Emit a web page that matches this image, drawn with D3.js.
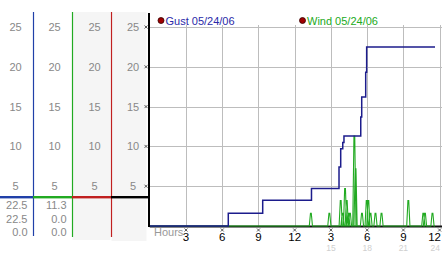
<!DOCTYPE html>
<html><head><meta charset="utf-8">
<script src="https://cdn.jsdelivr.net/npm/d3@7"></script>
<style>body{margin:0;background:#fff}svg{display:block}text{font-family:"Liberation Sans",Arial,sans-serif}</style>
</head><body><svg id="c" width="442" height="253"></svg>
<script>
// ---- data ----
const yTicks = [5, 10, 15, 20, 25];
const xTickHours = [3, 6, 9, 12, 15, 18, 21, 24];
const xTickLabels = ["3", "6", "9", "12", "3", "6", "9", "12"];
const xSubLabels = ["", "", "", "", "15", "18", "21", "24"];
const legendNames = ["Gust 05/24/06", "Wind 05/24/06"];
// gust step series: hour, value
const gustHours  = [0, 6.5, 9.35, 13.39, 15.67, 15.81, 15.98, 16.08, 17.47, 17.55, 17.88, 17.96, 23.62];
const gustValues = [0, 1.6, 3.25, 4.7, 7.4, 9.7, 10.5, 11.3, 13.7, 16.2, 19.3, 22.5, 22.5];
// wind nonzero readings: hour, value
const windHours  = [13.34, 14.87, 15.81, 15.96, 16.17, 16.31, 16.44, 16.58, 16.94, 17.04, 17.57, 17.96, 18.10, 18.28, 18.69, 19.19, 21.41, 22.65, 22.79, 23.41];
const windValues = [1.6, 1.6, 3.2, 1.6, 4.7, 3.2, 1.6, 1.6, 11.3, 7.2, 1.6, 3.2, 3.2, 1.6, 1.6, 1.6, 3.2, 1.6, 1.6, 1.6];
const windEnd = 23.62;
// summary table (columns: gust, wind)
const summaryGust = ["22.5", "22.5", "0.0"];
const summaryWind = ["11.3", "0.0", "0.0"];

// ---- drawing ----
const svg = d3.select("#c");
const x = d3.scaleLinear().domain([0, 24]).range([149.8, 439.6]);
const y = d3.scaleLinear().domain([0, 25]).range([226, 27]);
const blue = "#1c1c8c", colBlue = "#2040a8", green = "#22aa22", red = "#c02020";

// left panel backgrounds
const cols = [[0, 33], [33, 72], [72, 111], [111, 149]];
svg.append("rect").attr("x", 72.5).attr("y", 12).attr("width", 38).attr("height", 228).attr("fill", "#f5f5f5");
svg.append("rect").attr("x", 111.5).attr("y", 12).attr("width", 35).attr("height", 229).attr("fill", "#f5f5f5");

// column tick labels
const colCenters = [15.5, 54.5, 94.5, 133];
colCenters.forEach(cx => {
  svg.selectAll(null).data(yTicks).enter().append("text")
    .attr("x", cx).attr("y", d => y(d)).attr("dy", "0.36em")
    .attr("text-anchor", "middle").attr("font-size", 11).attr("fill", "#888").text(d => d);
});
// column lines
const colLines = [[33, colBlue, 236], [72, green, 237], [111, red, 237]];
colLines.forEach(([cx, col, y2]) => svg.append("line").attr("x1", cx + 0.5).attr("x2", cx + 0.5).attr("y1", 12).attr("y2", y2).attr("stroke", col).attr("stroke-width", 1.2));
// colored horizontal bar
const barCols = [colBlue, green, red, "#000"];
cols.forEach((c, i) => svg.append("rect").attr("x", c[0]).attr("y", 196).attr("width", c[1] - c[0] + (i == 3 ? 1 : 0)).attr("height", 2.4).attr("fill", barCols[i]));
// summary numbers
summaryGust.forEach((t, i) => svg.append("text").attr("x", 27.5).attr("y", 209 + i * 13.6).attr("text-anchor", "end").attr("font-size", 11).attr("fill", "#888").text(t));
summaryWind.forEach((t, i) => svg.append("text").attr("x", 66.5).attr("y", 209 + i * 13.6).attr("text-anchor", "end").attr("font-size", 11).attr("fill", "#888").text(t));

// grid
const g = svg.append("g");
g.selectAll(null).data(yTicks).enter().append("line")
  .attr("x1", x(0)).attr("x2", 442).attr("y1", d => Math.round(y(d)) + 0.5).attr("y2", d => Math.round(y(d)) + 0.5)
  .attr("stroke", "#bdbdbd").attr("stroke-width", 1);
g.selectAll(null).data(xTickHours).enter().append("line")
  .attr("x1", d => Math.round(x(d)) + 0.5).attr("x2", d => Math.round(x(d)) + 0.5).attr("y1", y(25) - 2).attr("y2", y(0))
  .attr("stroke", "#bdbdbd").attr("stroke-width", 1);

// wind line
const dh = 1.6 / 12.07, dt = 0.4 / 12.07;
const windPts = [[0, 0]];
windHours.forEach((h, i) => { windPts.push([h - dh, 0], [h - dt, windValues[i]], [h + dt, windValues[i]], [h + dh, 0]); });
windPts.push([windEnd, 0]);
// axis baseline
svg.append("line").attr("x1", x(0)).attr("x2", 442).attr("y1", y(0) + 0.5).attr("y2", y(0) + 0.5).attr("stroke", "#111").attr("stroke-width", 2);
svg.append("path").attr("d", d3.line().x(d => x(d[0])).y(d => y(d[1]))(windPts))
  .attr("fill", "none").attr("stroke", green).attr("stroke-width", 1.1);
// gust line
svg.append("path").attr("d", d3.line().curve(d3.curveStepAfter).x((d, i) => x(gustHours[i])).y((d, i) => y(gustValues[i]))(gustHours))
  .attr("fill", "none").attr("stroke", blue).attr("stroke-width", 1.5);

// left axis
svg.append("line").attr("x1", 149).attr("x2", 149).attr("y1", 13).attr("y2", 227).attr("stroke", "#000").attr("stroke-width", 2);
// y tick marks
const mark = "M-1.5,-1.5L1.5,1.5M1.5,-1.5L-1.5,1.5";
svg.selectAll(null).data(yTicks).enter().append("path")
  .attr("transform", d => `translate(146,${y(d)})`).attr("d", mark).attr("stroke", "#333").attr("stroke-width", 0.8);
// x ticks
svg.selectAll(null).data(xTickHours).enter().append("path")
  .attr("transform", d => `translate(${x(d)},230)`).attr("d", mark).attr("stroke", "#333").attr("stroke-width", 0.8);
svg.selectAll(null).data(xTickHours).enter().append("text")
  .attr("x", (d, i) => i == xTickHours.length - 1 ? 441 : x(d)).attr("y", 240.5)
  .attr("text-anchor", (d, i) => i == xTickHours.length - 1 ? "end" : "middle")
  .attr("font-size", 11.5).attr("fill", "#000").text((d, i) => xTickLabels[i]);
svg.selectAll(null).data(xTickHours).enter().append("text")
  .attr("x", (d, i) => i == xTickHours.length - 1 ? 440 : x(d)).attr("y", 251)
  .attr("text-anchor", (d, i) => i == xTickHours.length - 1 ? "end" : "middle")
  .attr("font-size", 8.5).attr("fill", "#cfcfcf").text((d, i) => xSubLabels[i]);
svg.append("text").attr("x", 154).attr("y", 236).attr("font-size", 11).attr("fill", "#999").text("Hours");

// legend
const legX = [161, 302.5], legCol = ["#2a2aa8", green];
legendNames.forEach((n, i) => {
  svg.append("circle").attr("cx", legX[i]).attr("cy", 20.5).attr("r", 3).attr("fill", "#a00000").attr("stroke", "#300").attr("stroke-width", 0.8);
  svg.append("text").attr("x", legX[i] + 4.5).attr("y", 24.5).attr("font-size", 11).attr("fill", legCol[i]).text(n);
});
</script></body></html>
